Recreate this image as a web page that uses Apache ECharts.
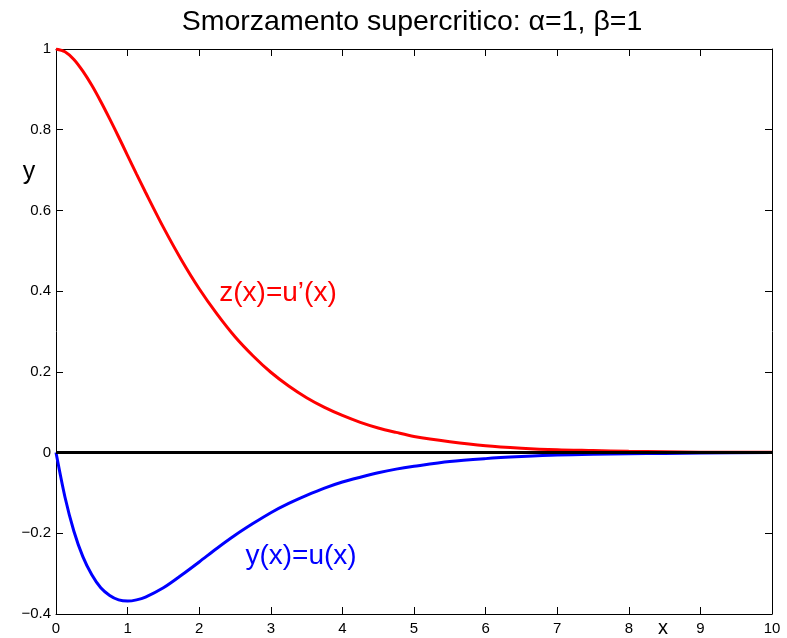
<!DOCTYPE html>
<html>
<head>
<meta charset="utf-8">
<script src="https://cdn.jsdelivr.net/npm/echarts@6/dist/echarts.min.js"></script>
<style>
  html, body { margin: 0; padding: 0; background: #fff; }
  #chart { width: 787px; height: 638px; }
</style>
</head>
<body>
<div id="chart"></div>
<script>
// Sample abscissae
const xs = [0, 0.125, 0.25, 0.375, 0.5, 0.625, 0.75, 0.875, 1, 1.125, 1.25, 1.5, 1.75,
            2, 2.25, 2.5, 2.75, 3, 3.25, 3.5, 3.75, 4, 4.25, 4.5, 4.75, 5, 5.5,
            6, 6.5, 7, 7.5, 8, 8.5, 9, 10];
// y(x) = u(x)
const uVals = [0, -0.110, -0.195, -0.258, -0.303, -0.335, -0.354, -0.365, -0.368, -0.365,
               -0.358, -0.335, -0.304, -0.271, -0.237, -0.205, -0.176, -0.149, -0.126,
               -0.106, -0.088, -0.073, -0.061, -0.050, -0.041, -0.034, -0.022,
               -0.015, -0.010, -0.006, -0.004, -0.003, -0.002, -0.001, 0];
// z(x) = u'(x)
const zVals = [1, 0.993, 0.974, 0.945, 0.910, 0.870, 0.827, 0.782, 0.736, 0.690,
               0.645, 0.558, 0.478, 0.406, 0.343, 0.287, 0.240, 0.199, 0.165,
               0.136, 0.112, 0.092, 0.075, 0.061, 0.050, 0.040, 0.027,
               0.017, 0.011, 0.007, 0.005, 0.003, 0.002, 0.001, 0.0005];
// Horizontal reference line
const baseX = [0, 10];
const baseY = [0, 0];

const xTicks = [0, 1, 2, 3, 4, 5, 6, 7, 8, 9, 10];
const yTicks = [-0.4, -0.2, 0, 0.2, 0.4, 0.6, 0.8, 1];

const FONT = "'Liberation Sans', Arial, Helvetica, sans-serif";

const pairs = (a, b) => a.map((v, i) => [v, b[i]]);
const fmt = v => String(Math.round(v * 10) / 10).replace('-', '\u2212');

const xCommon = {
  type: 'value',
  min: xTicks[0], max: xTicks[xTicks.length - 1], interval: 1,
  axisLine: { onZero: false, lineStyle: { color: '#000', width: 1 } },
  axisTick: { inside: true, length: 7, lineStyle: { color: '#000' } },
  splitLine: { show: false }
};
const yCommon = {
  type: 'value',
  min: yTicks[0], max: yTicks[yTicks.length - 1], interval: 0.2,
  axisLine: { onZero: false, lineStyle: { color: '#000', width: 1 } },
  axisTick: { inside: true, length: 7, lineStyle: { color: '#000' } },
  splitLine: { show: false }
};

const chart = echarts.init(document.getElementById('chart'), null, { renderer: 'canvas' });
chart.setOption({
  animation: false,
  backgroundColor: '#fff',
  title: {
    text: 'Smorzamento supercritico: \u03B1=1, \u03B2=1',
    left: 407,
    textAlign: 'center',
    top: 3,
    textStyle: { fontFamily: FONT, fontSize: 28.5, fontWeight: 'normal', color: '#000' }
  },
  grid: { left: 56, right: 15, top: 49, bottom: 24, containLabel: false },
  xAxis: [
    Object.assign({}, xCommon, {
      position: 'bottom',
      axisLabel: { color: '#000', fontFamily: FONT, fontSize: 15, margin: 7 }
    }),
    Object.assign({}, xCommon, { position: 'top', axisLabel: { show: false } })
  ],
  yAxis: [
    Object.assign({}, yCommon, {
      position: 'left',
      axisLabel: { color: '#000', fontFamily: FONT, fontSize: 15, margin: 5, formatter: fmt }
    }),
    Object.assign({}, yCommon, { position: 'right', axisLabel: { show: false } })
  ],
  series: [
    {
      name: 'z', type: 'line', xAxisIndex: 0, yAxisIndex: 0,
      data: pairs(xs, zVals), showSymbol: false, smooth: 0.3,
      lineStyle: { color: '#ff0000', width: 3 }
    },
    {
      name: 'y', type: 'line', xAxisIndex: 0, yAxisIndex: 0,
      data: pairs(xs, uVals), showSymbol: false, smooth: 0.3,
      lineStyle: { color: '#0000ff', width: 3 }
    },
    {
      name: 'zero', type: 'line', xAxisIndex: 0, yAxisIndex: 0,
      data: pairs(baseX, baseY), showSymbol: false,
      lineStyle: { color: '#000', width: 3 }
    }
  ],
  graphic: [
    { type: 'text', style: { x: 278, y: 293, text: 'z(x)=u\u2019(x)', fill: '#ff0000',
      font: '28px ' + FONT, textAlign: 'center', textVerticalAlign: 'middle' } },
    { type: 'text', style: { x: 301, y: 556, text: 'y(x)=u(x)', fill: '#0000ff',
      font: '28px ' + FONT, textAlign: 'center', textVerticalAlign: 'middle' } },
    { type: 'text', style: { x: 663, y: 628, text: 'x', fill: '#000',
      font: '20px ' + FONT, textAlign: 'center', textVerticalAlign: 'middle' } },
    { type: 'text', style: { x: 29, y: 172, text: 'y', fill: '#000',
      font: '25px ' + FONT, textAlign: 'center', textVerticalAlign: 'middle' } }
  ]
});
</script>
</body>
</html>
